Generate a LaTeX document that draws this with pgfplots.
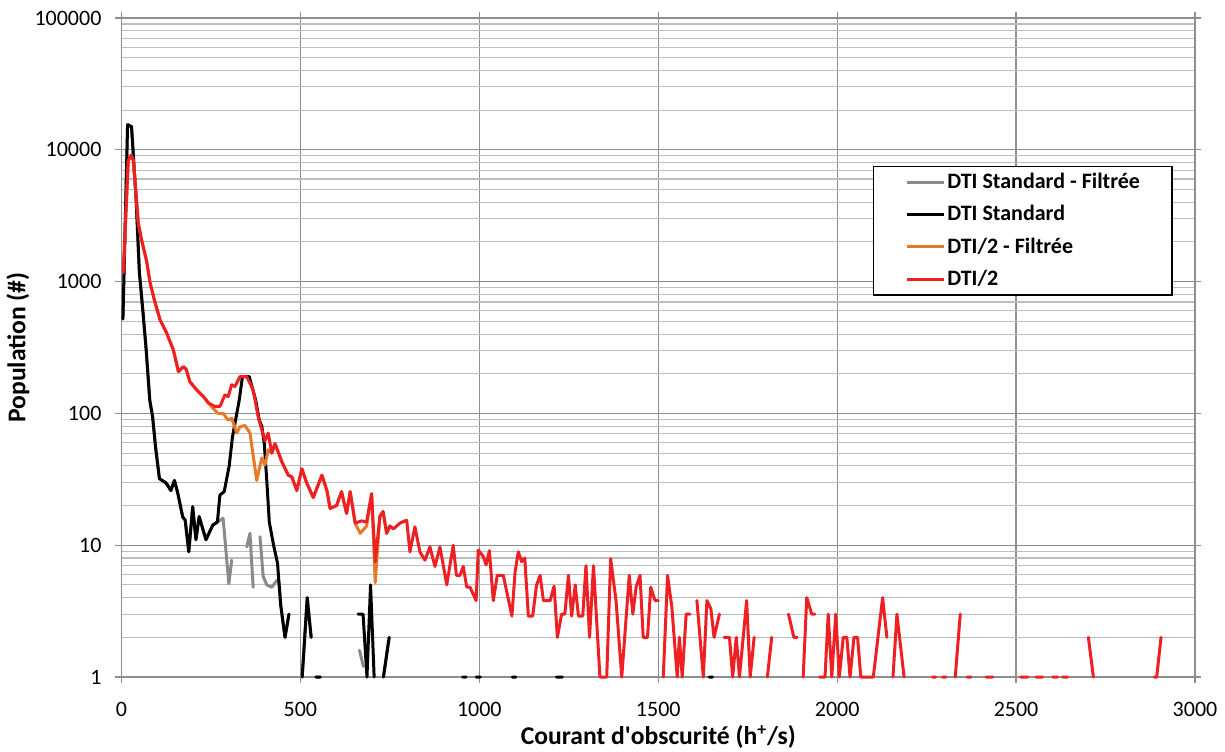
\documentclass[border=0pt]{standalone}
\usepackage{fontspec}
\setmainfont{Carlito}
\usepackage{pgfplots}
\pgfplotsset{compat=1.18}
\definecolor{cgray}{HTML}{8A8A8A}
\definecolor{corange}{HTML}{E67A26}
\definecolor{cred}{HTML}{EE2024}
\definecolor{gridmajor}{HTML}{8E8E8E}
\definecolor{gridminor}{HTML}{BDBDBD}
\begin{document}
\begin{tikzpicture}
\begin{axis}[
  at={(0,0)}, anchor=south west,
  scale only axis, width=536.75pt, height=329.5pt,
  xmin=0, xmax=3000, ymode=log, ymin=1, ymax=100000,
  xtick={0,500,1000,1500,2000,2500,3000},
  xticklabels={0,500,1000,1500,2000,2500,3000},
  ytick={1,10,100,1000,10000,100000},
  yticklabels={1,10,100,1000,10000,100000},
  xmajorgrids, ymajorgrids, yminorgrids,
  major grid style={color=gridmajor, line width=0.6pt},
  minor grid style={color=gridminor, line width=0.55pt},
  axis line style={color=gridmajor, line width=0.6pt},
  tick style={color=gridmajor, line width=0.6pt},
  tick align=outside, major tick length=3pt, minor tick length=0pt,
  tick label style={font=\fontsize{11}{13}\selectfont, text=black},
  xticklabel style={yshift=-6pt},
  yticklabel style={xshift=-3.5pt},
  xlabel={Courant d\textquotesingle obscurité (h\textsuperscript{+}/s)},
  ylabel={Population (\#)},
  every axis x label/.style={at={(axis description cs:0.5,-0.091)}, anchor=center,
    font=\bfseries\fontsize{12.8}{15}\selectfont},
  every axis y label/.style={at={(axis description cs:-0.0964,0.5)}, rotate=90, anchor=center,
    font=\bfseries\fontsize{12.8}{15}\selectfont},
  unbounded coords=jump,
  clip=false,
  legend style={at={(rel axis cs:0.700,0.7754)}, anchor=north west, draw=black, line width=0.6pt,
    font=\bfseries\fontsize{11}{13}\selectfont, row sep=2.9pt, inner xsep=14pt, inner ysep=1.3pt,
    /tikz/every odd column/.append style={column sep=-1.15pt}},
  legend cell align=left,
  legend image code/.code={\draw[#1, line width=1.5pt, line cap=butt] (0pt,0pt) -- (18.5pt,0pt); \path (-2pt,0pt);},
  every axis plot/.append style={line width=1.5pt, line join=round, line cap=round},
]
% DTI Standard - Filtree
\addplot[cgray] coordinates {
(4,520) (17,15500) (28,15000) (41,4150) (50,1170) (60,590) (69,303) (79,126) (87,94) (95,56)
(106,32) (125,29.6) (138,26) (148,31) (157,25) (171,16.4) (178,15.5) (188,8.9) (199,19.6)
(208,11) (217,16.5) (236,11) (255,14.2) (268,15) (284,16) (300,5.1) (308,7.7) (310,nan)
(350,9.7) (359,12.3) (368,4.8) (370,nan)
(387,11.6) (396,5.8) (406,5) (420,4.8) (434,5.4) (440,5.2) (445,3.5) (457,2) (468,3) (480,nan)
(505,1) (519,4) (530,2) (535,nan) (543,1) (556,1) (560,nan)
(665,1.6) (676,1.2) (680,nan) (732,1) (748,2)
};
\addlegendentry{DTI Standard - Filtrée}
% DTI Standard
\addplot[black] coordinates {
(4,520) (17,15500) (28,15000) (41,4150) (50,1170) (60,590) (69,303) (79,126) (87,94) (95,56)
(106,32) (125,29.6) (138,26) (148,31) (157,25) (171,16.4) (178,15.5) (188,8.9) (199,19.6)
(208,11) (217,16.5) (236,11) (255,14.2) (268,15) (275,24) (287,25.5) (301,40) (310,66)
(329,126) (338,190) (357,190) (375,126) (385,89) (392,80) (399,59) (406,31) (413,15)
(425,10) (436,7.3) (445,3.5) (457,2) (468,3) (480,nan)
(505,1) (519,4) (530,2) (535,nan) (543,1) (556,1) (560,nan)
(661,3) (675,3) (686,1) (696,5) (706,1) (715,nan) (732,1) (748,2) (755,nan)
(953,1) (963,1) (970,nan) (991,1) (1003,1) (1010,nan) (1092,1) (1102,1) (1110,nan)
(1215,1) (1232,1) (1240,nan) (1642,1) (1652,1)
};
\addlegendentry{DTI Standard}
% DTI/2 - Filtree
\addplot[corange] coordinates {
(5,1170) (19,8300) (27,9100) (33,8300) (42,4150) (47,2770) (56,2080) (70,1440) (80,975)
(94,690) (108,510) (126,408) (145,303) (159,208) (173,226) (181,216) (191,174) (210,151)
(229,134) (243,120) (256,109) (270,100) (284,100) (298,89) (308,92) (322,71) (331,79)
(345,81) (359,71) (378,31) (392,46) (401,40.6) (410,53) (420,50) (429,59) (448,43)
(466,34) (476,33) (490,26) (504,38) (518,29.5) (536,23) (560,34) (574,26) (583,19)
(601,20) (615,25.5) (629,17.4) (639,25.5) (653,14.7) (667,12.3) (685,14) (699,24.6)
(709,5.2) (722,16.5) (731,18) (741,12.3) (750,14)
};
\addlegendentry{DTI/2 - Filtrée}
% DTI/2
\addplot[cred] coordinates {
(5,1170) (19,8300) (27,9100) (33,8300) (42,4150) (47,2770) (56,2080) (70,1440) (80,975)
(94,690) (108,510) (126,408) (145,303) (159,208) (173,226) (181,216) (191,174) (210,151)
(229,134) (243,120) (261,113) (275,113) (289,138) (298,134) (308,165) (317,160) (331,190)
(350,190) (368,151) (382,94) (392,75) (401,62) (410,71) (420,50) (429,59) (448,43)
(466,34) (476,33) (490,26) (504,38) (518,29.5) (536,23) (560,34) (574,26) (583,19)
(601,20) (615,25.5) (629,17.4) (639,25.5) (653,14.7) (671,15.3) (685,15) (699,24.6)
(709,7.5) (722,16.5) (731,18) (741,12.3) (750,14) (760,13.3) (778,14.7) (797,15.5)
(806,8.9) (820,13.8) (834,8.9) (848,7.7) (862,9.7) (876,6.9) (890,9.7) (909,5) (927,10)
(936,5.9) (946,5.9) (955,6.9) (965,4.8) (974,4.8) (991,3.8) (997,9.2) (1011,8.2) (1019,7.1)
(1028,9.1) (1039,3.8) (1050,5.9) (1067,5.9) (1091,2.9) (1100,6.3) (1109,8.9) (1118,7.5)
(1127,8) (1137,2.9) (1149,2.9) (1160,5) (1170,5.9) (1179,3.8) (1198,3.8) (1209,4.9)
(1218,2) (1230,3) (1239,3) (1249,5.9) (1258,2.9) (1268,5) (1277,2.9) (1289,2.9) (1298,7)
(1308,2) (1319,7) (1337,1) (1356,1) (1367,7.9) (1382,3.8) (1398,1) (1419,5.9) (1429,3)
(1438,4.8) (1449,5.9) (1458,2) (1470,2) (1479,4.8) (1491,3.8) (1500,3.8) (1507,nan)
(1514,1) (1526,5.9) (1538,3.4) (1553,1) (1559,2) (1567,1) (1578,3) (1589,3) (1598,nan)
(1608,3.8) (1626,1) (1636,3.8) (1647,3.3) (1656,2) (1671,3) (1678,nan)
(1684,2) (1699,2) (1708,1) (1718,2) (1727,1) (1747,3.8) (1757,1) (1768,2) (1785,nan)
(1805,1) (1817,2) (1840,nan) (1864,3) (1879,2) (1888,2) (1897,nan)
(1905,1) (1915,4) (1929,3) (1938,3) (1945,nan)
(1951,1) (1966,1) (1975,3) (1985,1) (1996,3) (2006,1) (2017,2) (2027,2) (2036,1) (2047,2)
(2057,2) (2066,1) (2075,1) (2101,1) (2127,4) (2139,2) (2148,nan)
(2156,1) (2167,3) (2187,1) (2200,nan)
(2266,1) (2276,1) (2285,nan) (2294,1) (2304,1) (2315,nan) (2330,1) (2344,3) (2352,nan)
(2364,1) (2374,1) (2390,nan) (2416,1) (2435,1) (2450,nan)
(2513,1) (2533,1) (2545,nan) (2555,1) (2574,1) (2590,nan) (2602,1) (2616,1) (2622,nan)
(2630,1) (2644,1) (2660,nan) (2702,2) (2716,1) (2750,nan) (2886,1) (2893,1) (2905,2)
};
\addlegendentry{DTI/2}
\end{axis}
\pgfresetboundingbox
\path (-60.75pt,-37pt) rectangle (551.75pt,338.5pt);
\end{tikzpicture}
\end{document}
